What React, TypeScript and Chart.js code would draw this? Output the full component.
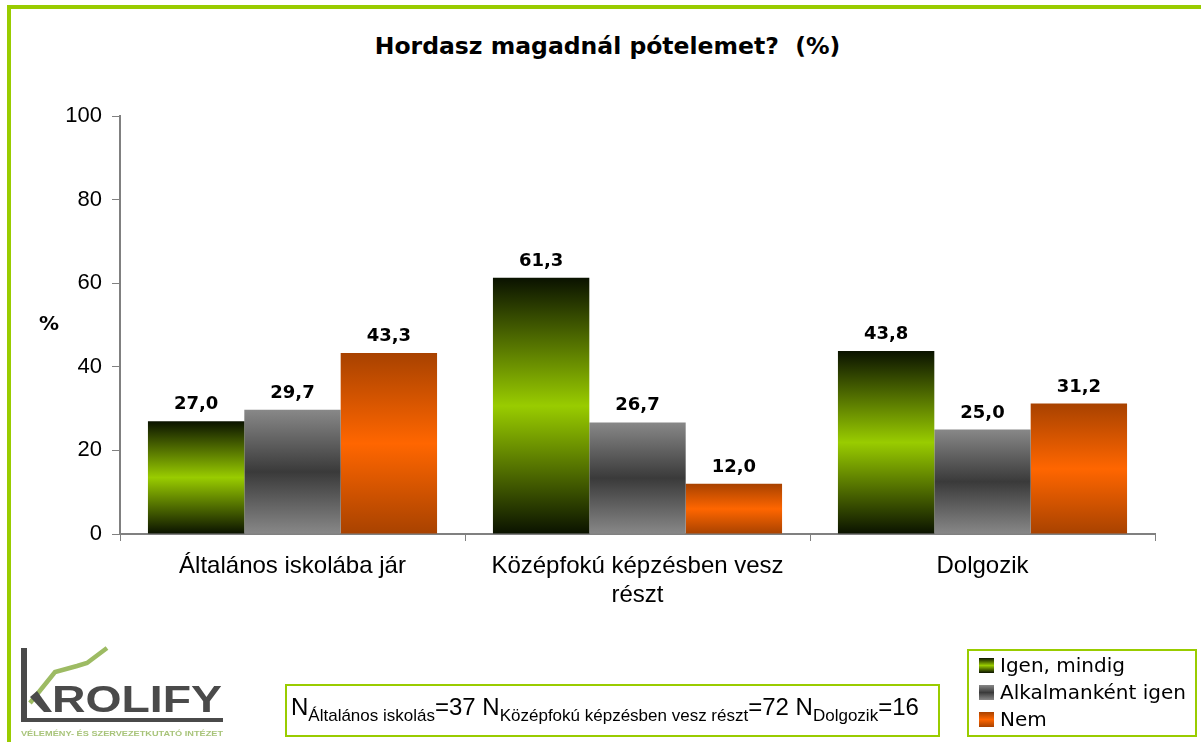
import React, { useEffect, useRef } from "react";
import { Chart, registerables } from "chart.js";

Chart.register(...registerables);

const categories: (string | string[])[] = [
  "Általános iskolába jár",
  ["Középfokú képzésben vesz", "részt"],
  "Dolgozik",
];
const seriesNames = ["Igen, mindig", "Alkalmanként igen", "Nem"];
const igenMindig = [27.0, 61.3, 43.8];
const alkalmankent = [29.7, 26.7, 25.0];
const nem = [43.3, 12.0, 31.2];
const yTicks = [0, 20, 40, 60, 80, 100];
const title = "Hordasz magadnál pótelemet?  (%)";

// gradient stops: edge colour, centre colour
const gradients: [string, string][] = [
  ["#0a1200", "#99cc00"],
  ["#888888", "#3a3a3a"],
  ["#a84200", "#ff6600"],
];

const FRAME = "#99cc00";

function barGradient(idx: number) {
  return (ctx: any) => {
    const chart = ctx.chart;
    const [edge, mid] = gradients[idx];
    if (!chart.chartArea || ctx.type !== "data") return mid;
    const y = chart.scales.y;
    const v = ctx.raw as number;
    const top = y.getPixelForValue(v);
    const bottom = y.getPixelForValue(0);
    if (!isFinite(top) || !isFinite(bottom) || top === bottom) return mid;
    const g = chart.ctx.createLinearGradient(0, top, 0, bottom);
    g.addColorStop(0, edge);
    g.addColorStop(0.5, mid);
    g.addColorStop(1, edge);
    return g;
  };
}

const valueLabels = {
  id: "valueLabels",
  afterDatasetsDraw(chart: any) {
    const ctx = chart.ctx;
    ctx.save();
    ctx.font = "bold 18px 'DejaVu Sans'";
    ctx.fillStyle = "#000";
    ctx.textAlign = "center";
    ctx.textBaseline = "alphabetic";
    chart.data.datasets.forEach((ds: any, i: number) => {
      chart.getDatasetMeta(i).data.forEach((bar: any, j: number) => {
        const v = ds.data[j] as number;
        ctx.fillText(v.toFixed(1).replace(".", ","), bar.x, bar.y - 12);
      });
    });
    ctx.restore();
  },
};

function ChartCanvas() {
  const ref = useRef<HTMLCanvasElement>(null);
  useEffect(() => {
    if (!ref.current) return;
    const seriesData = [igenMindig, alkalmankent, nem];
    const chart = new Chart(ref.current, {
      type: "bar",
      data: {
        labels: categories,
        datasets: seriesData.map((d, i) => ({
          label: seriesNames[i],
          data: d,
          backgroundColor: barGradient(i),
          borderWidth: 0,
          categoryPercentage: 0.838,
          barPercentage: 1.0,
        })),
      },
      options: {
        animation: false,
        responsive: false,
        maintainAspectRatio: false,
        events: [],
        layout: { padding: { left: 0, top: 116, right: 46, bottom: 0 } },
        plugins: {
          legend: { display: false },
          title: { display: false },
          tooltip: { enabled: false },
        },
        scales: {
          x: {
            grid: {
              display: true,
              drawOnChartArea: false,
              drawTicks: true,
              tickLength: 7,
              color: "#808080",
              offset: true,
            },
            border: { display: true, color: "#808080", width: 2 },
            ticks: {
              color: "#000",
              font: { family: "'Liberation Sans', Arial", size: 24, lineHeight: 1.2 },
              padding: 11,
              maxRotation: 0,
              autoSkip: false,
            },
            afterFit: (s: any) => {
              s.height = 208;
            },
          },
          y: {
            min: 0,
            max: 100,
            afterBuildTicks: (s: any) => {
              s.ticks = yTicks.map((v) => ({ value: v }));
            },
            grid: {
              display: true,
              drawOnChartArea: false,
              drawTicks: true,
              tickLength: 8,
              color: "#808080",
            },
            border: { display: true, color: "#808080", width: 2 },
            ticks: {
              color: "#000",
              font: { family: "'Liberation Sans', Arial", size: 22 },
              padding: 10,
            },
            afterFit: (s: any) => {
              s.width = 120;
            },
          },
        },
      },
      plugins: [valueLabels],
    });
    return () => chart.destroy();
  }, []);
  return (
    <canvas
      ref={ref}
      width={1201}
      height={742}
      style={{ position: "absolute", left: 0, top: 0, width: 1201, height: 742 }}
    />
  );
}

function swatch(i: number): React.CSSProperties {
  const [edge, mid] = gradients[i];
  return {
    display: "inline-block",
    width: 15,
    height: 15,
    marginRight: 6,
    background: `linear-gradient(to bottom, ${edge}, ${mid} 50%, ${edge})`,
  };
}

export default function App() {
  return (
    <div
      style={{
        position: "absolute",
        left: 0,
        top: 0,
        width: 1201,
        height: 742,
        overflow: "hidden",
        background: "#fff",
      }}
    >
      {/* frame */}
      <div style={{ position: "absolute", left: 7, top: 5, width: 1194, height: 4, background: FRAME }} />
      <div style={{ position: "absolute", left: 7, top: 5, width: 4, height: 737, background: FRAME }} />

      <div
        style={{
          position: "absolute",
          left: 0,
          width: 1215,
          top: 31,
          textAlign: "center",
          font: "bold 23.5px 'DejaVu Sans'",
          color: "#000",
          lineHeight: "30px",
          whiteSpace: "pre",
        }}
      >
        {title}
      </div>

      <ChartCanvas />

      <div
        style={{
          position: "absolute",
          left: 39,
          top: 311,
          font: "bold 20px 'DejaVu Sans'",
          color: "#000",
        }}
      >
        %
      </div>

      {/* logo */}
      <svg
        width={240}
        height={102}
        viewBox="10 640 240 102"
        style={{ position: "absolute", left: 10, top: 640 }}
      >
        <polyline
          points="30,703 55,672 77,666 87,663 107,648"
          fill="none"
          stroke="#9dbb63"
          strokeWidth={4.5}
        />
        <rect x={21} y={648} width={6} height={74} fill="#4a4a4a" />
        <rect x={21} y={718} width={202} height={4} fill="#4a4a4a" />
        <polygon points="30,697 37,691 52,712 44,712" fill="#4a4a4a" />
        <text
          x={52}
          y={712}
          fontFamily="'Liberation Sans', Arial"
          fontWeight="bold"
          fontSize={37}
          fill="#4a4a4a"
          textLength={170}
          lengthAdjust="spacingAndGlyphs"
        >
          ROLIFY
        </text>
        <text
          x={21}
          y={736}
          fontFamily="'Liberation Sans', Arial"
          fontWeight="bold"
          fontSize={8}
          fill="#a8c47a"
          textLength={202}
          lengthAdjust="spacingAndGlyphs"
        >
          VÉLEMÉNY- ÉS SZERVEZETKUTATÓ INTÉZET
        </text>
      </svg>

      {/* N box */}
      <div
        style={{
          position: "absolute",
          left: 285,
          top: 684,
          width: 651,
          height: 49,
          border: `2px solid ${FRAME}`,
          font: "24px 'Liberation Sans', Arial",
          color: "#000",
          boxSizing: "content-box",
        }}
      >
        <div style={{ position: "absolute", left: 4, top: 7, whiteSpace: "nowrap" }}>
          N<sub style={{ fontSize: 17 }}>Általános iskolás</sub>=37 N
          <sub style={{ fontSize: 17 }}>Középfokú képzésben vesz részt</sub>=72 N
          <sub style={{ fontSize: 17 }}>Dolgozik</sub>=16
        </div>
      </div>

      {/* legend */}
      <div
        style={{
          position: "absolute",
          left: 967,
          top: 649,
          width: 226,
          height: 84,
          border: `2px solid ${FRAME}`,
          font: "20px 'DejaVu Sans'",
          color: "#000",
          boxSizing: "content-box",
        }}
      >
        {seriesNames.map((n, i) => (
          <div
            key={n}
            style={{
              position: "absolute",
              left: 10,
              top: 1 + i * 27,
              height: 27,
              lineHeight: "27px",
              display: "flex",
              alignItems: "center",
              whiteSpace: "nowrap",
            }}
          >
            <span style={swatch(i)} />
            {n}
          </div>
        ))}
      </div>
    </div>
  );
}
